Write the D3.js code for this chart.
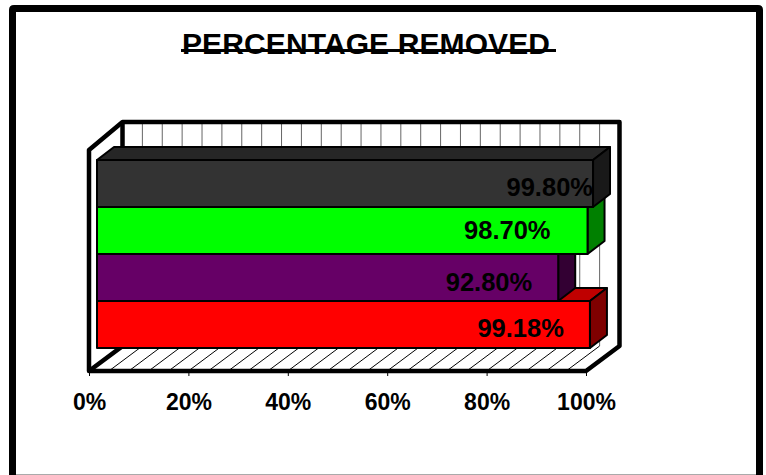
<!DOCTYPE html>
<html>
<head>
<meta charset="UTF-8">
<title>Percentage removed</title>
<style>
  html, body { margin: 0; padding: 0; background: #fff; }
  svg { display: block; }
  text { font-family: "Liberation Sans", Arial, sans-serif; font-weight: bold; fill: #000; }
</style>
<script src="https://d3js.org/d3.v7.min.js"></script>
</head>
<body>
<svg width="766" height="475"></svg>
<script>
// bottom bar first, the source chart has no category names
var categories = ["a", "b", "c", "d"];
var values = [99.18, 92.80, 98.70, 99.80];
var valueLabels = ["99.18%", "92.80%", "98.70%", "99.80%"];
var tickValues = [0, 20, 40, 60, 80, 100];
var gridValues = d3.range(4, 100, 4);
var titleText = "PERCENTAGE REMOVED";

var frontColors = ["#ff0000", "#660066", "#00ff00", "#333333"];
var topColors = ["#bf0000", "#4c004c", "#00bf00", "#262626"];
var sideColors = ["#7f0000", "#330033", "#008000", "#191919"];
// where each label's right edge sits, in px in from the bar end
var labelInset = [26, 26, 37, 0];
var labelMid = [328, 282, 230, 187];

var svg = d3.select("svg");

// outer frame runs off the bottom of the picture
svg.append("line").attr("x1", 16).attr("x2", 756).attr("y1", 474.5).attr("y2", 474.5)
  .attr("stroke", "#aaa").attr("stroke-width", 1);
svg.append("path")
  .attr("d", "M12.5,475V10Q12.5,8.5 14,8.5H758Q759.5,8.5 759.5,10V475")
  .attr("fill", "none").attr("stroke", "#000").attr("stroke-width", 7);

// title, with the rule drawn across the lower part of the letters
svg.append("text").attr("x", 366).attr("y", 54).attr("text-anchor", "middle")
  .attr("font-size", 30).attr("textLength", 368).text(titleText);
svg.append("line").attr("x1", 181).attr("x2", 556).attr("y1", 50.5).attr("y2", 50.5)
  .attr("stroke", "#000").attr("stroke-width", 3);

var floorY = 371, wallTop = 122, wallBottom = 346, frontTop = 150;
var depthX = 33.5;
var x = d3.scaleLinear().domain([0, 100]).range([89, 586]);

// back wall grid and floor hatching
svg.append("g").selectAll("line").data(gridValues).enter().append("line")
  .attr("x1", function(d) { return x(d) + depthX; })
  .attr("x2", function(d) { return x(d) + depthX; })
  .attr("y1", wallTop).attr("y2", wallBottom)
  .attr("stroke", "#666").attr("stroke-width", 1);
svg.append("g").selectAll("line").data(gridValues).enter().append("line")
  .attr("x1", function(d) { return x(d); })
  .attr("x2", function(d) { return x(d) + depthX; })
  .attr("y1", floorY).attr("y2", wallBottom)
  .attr("stroke", "#000").attr("stroke-width", 1);

// box edges
var x0 = x(0), x1 = x(100);
svg.append("path")
  .attr("d", "M" + x0 + "," + floorY + "V" + frontTop + "L" + (x0 + depthX) + "," + wallTop +
    "H" + (x1 + depthX) + "V" + wallBottom + "L" + x1 + "," + floorY + "Z")
  .attr("fill", "none").attr("stroke", "#000").attr("stroke-width", 4.5).attr("stroke-linejoin", "round");
svg.append("path")
  .attr("d", "M" + (x0 + depthX) + "," + wallTop + "V" + wallBottom + "L" + x0 + "," + floorY)
  .attr("fill", "none").attr("stroke", "#000").attr("stroke-width", 4.5);

// axis ticks and labels
var axis = d3.axisBottom(x).tickValues(tickValues).tickSize(5).tickPadding(18)
  .tickFormat(function(d) { return d + "%"; });
var axisG = svg.append("g").attr("transform", "translate(0," + floorY + ")").call(axis);
axisG.select(".domain").remove();
axisG.selectAll("line").attr("stroke", "#000");
axisG.selectAll("text").attr("font-size", 23).attr("font-family", null);

// bars, drawn bottom one first so each higher bar covers the one below
var y = d3.scaleBand().domain(categories).range([348, 160]);
var barX = d3.scaleLinear().domain([0, 100]).range([97, 594]);
var dx = 17, dy = -13;

var bars = svg.append("g").selectAll("g").data(categories).enter().append("g")
  .attr("stroke", "#000").attr("stroke-width", 2).attr("stroke-linejoin", "round");

bars.append("path")
  .attr("fill", function(d, i) { return topColors[i]; })
  .attr("d", function(d, i) {
    var t = y(d), l = barX(0), r = barX(values[i]);
    return "M" + l + "," + t + "L" + (l + dx) + "," + (t + dy) + "H" + (r + dx) + "L" + r + "," + t + "Z";
  });
bars.append("path")
  .attr("fill", function(d, i) { return sideColors[i]; })
  .attr("d", function(d, i) {
    var t = y(d), b = t + y.bandwidth(), r = barX(values[i]);
    return "M" + r + "," + t + "L" + (r + dx) + "," + (t + dy) + "V" + (b + dy) + "L" + r + "," + b + "Z";
  });
bars.append("rect")
  .attr("x", barX(0))
  .attr("y", function(d) { return y(d); })
  .attr("width", function(d, i) { return barX(values[i]) - barX(0); })
  .attr("height", y.bandwidth())
  .attr("fill", function(d, i) { return frontColors[i]; });

// value labels sit on top of everything
svg.append("g").selectAll("text").data(categories).enter().append("text")
  .attr("x", function(d, i) { return barX(values[i]) - labelInset[i]; })
  .attr("y", function(d, i) { return labelMid[i]; })
  .attr("dy", "0.35em")
  .attr("text-anchor", "end")
  .attr("font-size", 25.5)
  .text(function(d, i) { return valueLabels[i]; });
</script>
</body>
</html>
